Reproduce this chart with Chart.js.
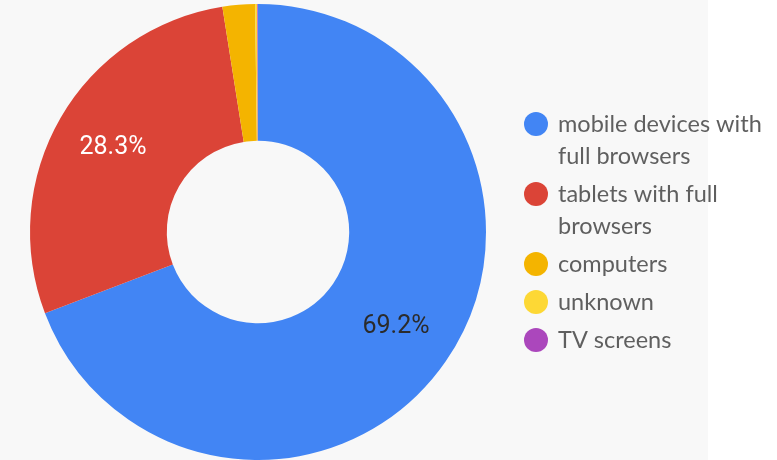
<!DOCTYPE html>
<html>
<head>
<meta charset="utf-8">
<script src="https://cdn.jsdelivr.net/npm/chart.js@4"></script>
<style>
  html, body { margin: 0; padding: 0; background: #ffffff; }
  #wrap { width: 777px; height: 460px; position: relative; }
</style>
</head>
<body>
<div id="wrap"><canvas id="deviceChart"></canvas></div>
<script>
// share of page views by device type (percent)
const labels = ['mobile devices with full browsers', 'tablets with full browsers', 'computers', 'unknown', 'TV screens'];
const legendLines = [['mobile devices with', 'full browsers'], ['tablets with full', 'browsers'], ['computers'], ['unknown'], ['TV screens']];
const shares = [69.2, 28.3, 2.3, 0.15, 0.05];
const colors = ['#4285f4', '#db4437', '#f4b400', '#fdd835', '#ab47bc'];

// light panel behind the chart
const panelBg = {
    id: 'panelBg',
    beforeDraw(chart) {
        const c = chart.ctx;
        c.save();
        c.fillStyle = '#f8f8f8';
        c.fillRect(0, 0, 708, chart.height);
        c.restore();
    }
};

// percent text on the bigger slices
const sliceLabels = {
    id: 'sliceLabels',
    afterDatasetsDraw(chart) {
        const c = chart.ctx;
        const meta = chart.getDatasetMeta(0);
        c.save();
        c.font = '25px Roboto, "Noto Sans", sans-serif';
        c.textAlign = 'center';
        c.textBaseline = 'middle';
        meta.data.forEach((arc, i) => {
            const v = shares[i];
            if (v < 5) return;
            const p = arc.getProps(['x', 'y', 'startAngle', 'endAngle', 'outerRadius'], true);
            const mid = (p.startAngle + p.endAngle) / 2;
            const r = p.outerRadius * 0.735;
            c.fillStyle = i === 0 ? '#2b2b2b' : '#ffffff';
            c.fillText(v.toFixed(1) + '%', p.x + Math.cos(mid) * r, p.y + Math.sin(mid) * r);
        });
        c.restore();
    }
};

// legend on the right, with wrapped labels
const sideLegend = {
    id: 'sideLegend',
    afterDraw(chart) {
        const c = chart.ctx;
        c.save();
        c.font = '23.5px Lato, sans-serif';
        c.textBaseline = 'middle';
        let y = 124;
        legendLines.forEach((lines, i) => {
            c.fillStyle = colors[i];
            c.beginPath();
            c.arc(536, y, 12, 0, Math.PI * 2);
            c.fill();
            c.fillStyle = '#5f5f5f';
            lines.forEach((t, k) => c.fillText(t, 558, y + k * 32));
            y += (lines.length - 1) * 32 + 38;
        });
        c.restore();
    }
};

const ctx = document.getElementById('deviceChart').getContext('2d');

const deviceChart = new Chart(ctx, {
    type: 'doughnut',
    data: {
        labels: labels,
        datasets: [{
            data: shares,
            backgroundColor: colors,
            borderWidth: 0
        }]
    },
    options: {
        responsive: true,
        maintainAspectRatio: false,
        animation: false,
        cutout: '40%',
        layout: { padding: { left: 30, right: 291, top: 4, bottom: 0 } },
        plugins: {
            legend: { display: false },
            tooltip: { enabled: false }
        }
    },
    plugins: [panelBg, sliceLabels, sideLegend]
});
</script>
</body>
</html>
